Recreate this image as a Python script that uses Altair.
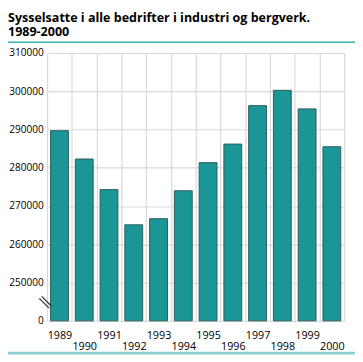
import altair as alt
import pandas as pd

years = ["1989", "1990", "1991", "1992", "1993", "1994",
         "1995", "1996", "1997", "1998", "1999", "2000"]
employed = [289700, 282300, 274300, 265100, 266700, 274000,
            281350, 286200, 296250, 300250, 295400, 285500]
y_ticks = [240000, 250000, 260000, 270000, 280000, 290000, 300000, 310000]
title_lines = ["Sysselsatte i alle bedrifter i industri og bergverk.", "1989-2000"]

FONT = "Open Sans"
W, H = 304, 274

df = pd.DataFrame({"year": years, "employed": employed})
one = pd.DataFrame({"k": [0]})

bars = alt.Chart(df).mark_bar(
    width=alt.RelativeBandSize(0.72), color="#1b9696",
    stroke="#2b5c5c", strokeWidth=1
).encode(
    x=alt.X("year:N", sort=None,
            scale=alt.Scale(paddingInner=0, paddingOuter=0),
            axis=alt.Axis(title=None, tickBand="extent", grid=True,
                          gridColor="#d9d9d9", gridWidth=1.2,
                          ticks=False, domain=False, labelAngle=0,
                          labelFont=FONT, labelFontSize=11, labelColor="#000",
                          labelBaseline="top", labelLineHeight=11,
                          labelPadding=9,
                          labelExpr="toNumber(datum.label) % 2 == 0 ? ['', datum.label] : datum.label")),
    y=alt.Y("employed:Q",
            scale=alt.Scale(domain=[240000, 310000], nice=False, zero=False),
            axis=alt.Axis(title=None, values=y_ticks, format="d",
                          labelExpr="datum.value == 240000 ? '0' : datum.label",
                          grid=True, gridColor="#d9d9d9", gridWidth=1.2,
                          ticks=False, domain=False,
                          labelFont=FONT, labelFontSize=10.3, labelColor="#000",
                          labelPadding=4)),
    y2=alt.datum(240000),
)

brk1 = alt.Chart(one).mark_rule(color="#333", strokeWidth=1.3).encode(
    x=alt.value(-8), x2=alt.value(2), y=alt.value(251), y2=alt.value(261))
brk2 = alt.Chart(one).mark_rule(color="#333", strokeWidth=1.3).encode(
    x=alt.value(-5.5), x2=alt.value(4.5), y=alt.value(249), y2=alt.value(259))
top_line = alt.Chart(one).mark_rule(color="#3aafaf", strokeWidth=1.5).encode(
    x=alt.value(-40), x2=alt.value(315), y=alt.value(-11))
bottom_line = alt.Chart(one).mark_rule(color="#8ccfcf", strokeWidth=3).encode(
    x=alt.value(-40), x2=alt.value(315), y=alt.value(307))

chart = alt.layer(bars, brk1, brk2, top_line, bottom_line).properties(
    width=W, height=H,
    title=alt.TitleParams(text=title_lines, anchor="start", frame="group",
                          font=FONT, fontSize=12.8, fontWeight="bold",
                          color="#000", dx=-40, offset=3, lineHeight=14.5),
    autosize=alt.AutoSizeParams(type="none"),
    padding={"left": 40, "top": 42, "right": 11, "bottom": 36},
).configure_view(stroke=None)

chart.save("out.html", embed_options={"renderer": "svg", "actions": False})
